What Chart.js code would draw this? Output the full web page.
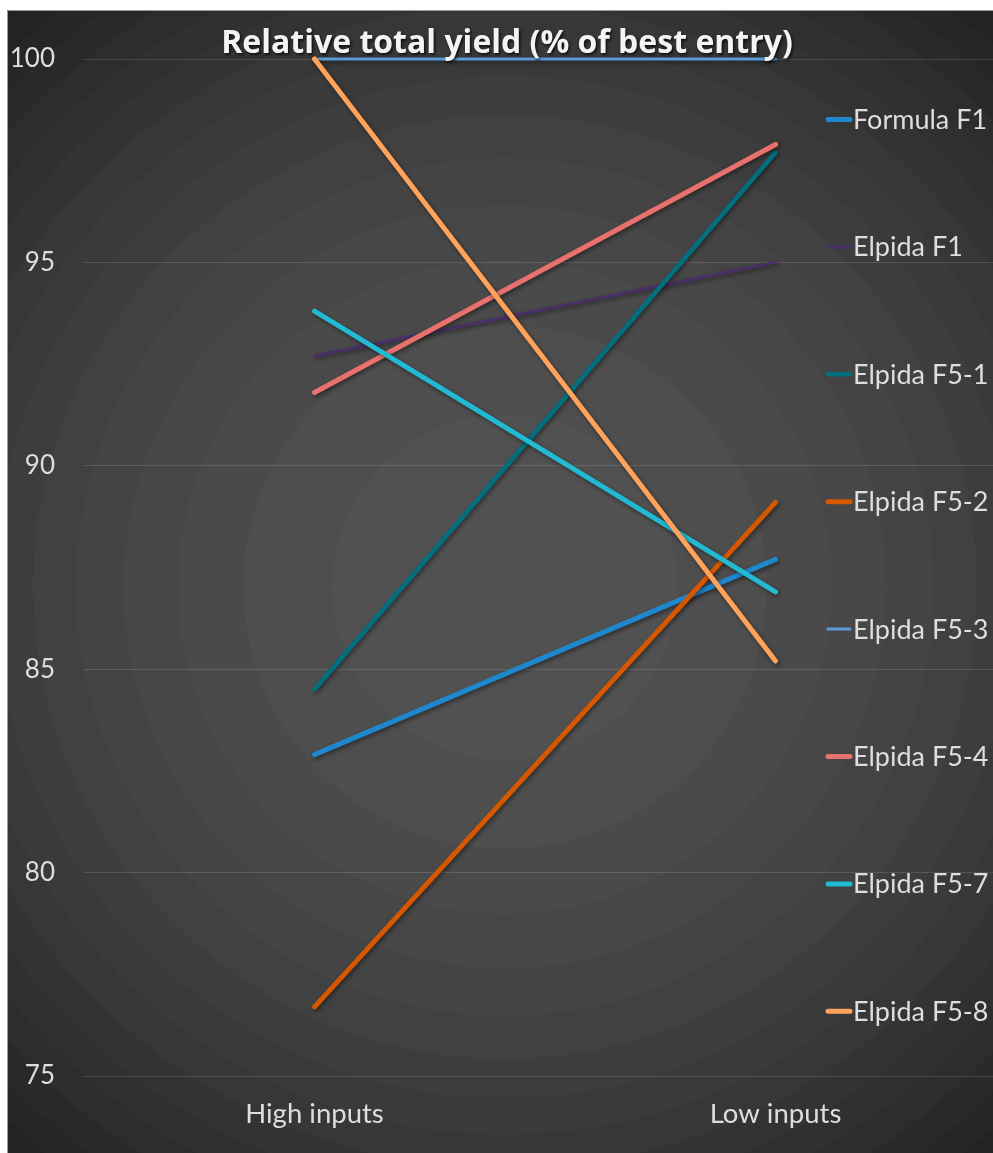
<!DOCTYPE html>
<html>
<head>
<meta charset="utf-8">
<title>Relative total yield</title>
<script src="https://cdn.jsdelivr.net/npm/chart.js@4.4.1/dist/chart.umd.min.js"></script>
<style>
  html, body { margin: 0; padding: 0; background: #ffffff; overflow: hidden; width: 993px; height: 1153px; }
  #wrap { position: absolute; left: 7px; top: 10px; width: 1003px; height: 1143px; }
  canvas { display: block; }
</style>
</head>
<body>
<div id="wrap"><canvas id="chart" width="1003" height="1143"></canvas></div>
<script>
// Relative total yield (% of best entry) per entry, under high and low inputs
const categories = ['High inputs', 'Low inputs'];

const seriesNames = ['Formula F1', 'Elpida F1', 'Elpida F5-1', 'Elpida F5-2',
                     'Elpida F5-3', 'Elpida F5-4', 'Elpida F5-7', 'Elpida F5-8'];

const formulaF1 = [82.9, 87.7];
const elpidaF1  = [92.7, 95.0];
const elpidaF51 = [84.5, 97.7];
const elpidaF52 = [76.7, 89.1];
const elpidaF53 = [100, 100];
const elpidaF54 = [91.8, 97.9];
const elpidaF57 = [93.8, 86.9];
const elpidaF58 = [100, 85.2];

const yMin = 75, yMax = 100, yStep = 5;
const chartTitle = 'Relative total yield (% of best entry)';

const seriesValues = [formulaF1, elpidaF1, elpidaF51, elpidaF52, elpidaF53, elpidaF54, elpidaF57, elpidaF58];
const seriesColors = ['#1f87cc', '#4b2d68', '#00707f', '#d55800', '#5b9bd5', '#e8716e', '#22b9d2', '#ffa35c'];
const seriesWidths = [5, 3, 4.5, 5, 3, 5, 5, 5];

const labelFont = 'Lato, "Open Sans", sans-serif';
const titleFont = '"Open Sans", Lato, sans-serif';
const textColor = '#dedede';

// dark backdrop with stepped radial shading and a thin frame
const backdrop = {
  id: 'backdrop',
  beforeDraw(chart) {
    const { ctx, width, height } = chart;
    const grey = v => { const g = Math.round(v); return `rgb(${g},${g},${g})`; };
    const cx = 498, cy = 577, bands = 16, top = 81, step = 3.3;
    ctx.save();
    ctx.fillStyle = grey(top - step * bands);
    ctx.fillRect(0, 0, width, height);
    for (let k = bands; k >= 1; k--) {
      const r = Math.sqrt(38571 * k - 8642);
      ctx.fillStyle = grey(top - step * (k - 1));
      ctx.beginPath();
      ctx.arc(cx, cy, r, 0, Math.PI * 2);
      ctx.fill();
    }
    ctx.strokeStyle = '#9c9c9c';
    ctx.lineWidth = 1;
    ctx.beginPath();
    ctx.moveTo(0.5, height);
    ctx.lineTo(0.5, 0.5);
    ctx.lineTo(width, 0.5);
    ctx.stroke();
    ctx.restore();
  }
};

// soft drop shadow under each series line
const lineShadow = {
  id: 'lineShadow',
  beforeDatasetDraw(chart) {
    const c = chart.ctx;
    c.save();
    c.shadowColor = 'rgba(0,0,0,0.45)';
    c.shadowBlur = 4;
    c.shadowOffsetX = 1.5;
    c.shadowOffsetY = 2;
  },
  afterDatasetDraw(chart) {
    chart.ctx.restore();
  }
};

// title across the top and a tall legend column on the right
const overlay = {
  id: 'overlay',
  afterDraw(chart) {
    const ctx = chart.ctx;
    ctx.save();
    ctx.font = `bold 32px ${titleFont}`;
    ctx.textAlign = 'center';
    ctx.textBaseline = 'alphabetic';
    ctx.shadowColor = 'rgba(0,0,0,0.7)';
    ctx.shadowBlur = 3;
    ctx.shadowOffsetX = 1.5;
    ctx.shadowOffsetY = 1.5;
    ctx.fillStyle = '#f4f4f4';
    ctx.fillText(chartTitle, 500, 43);
    ctx.restore();

    ctx.save();
    ctx.font = `27px ${labelFont}`;
    ctx.textAlign = 'left';
    ctx.textBaseline = 'alphabetic';
    chart.data.datasets.forEach((ds, i) => {
      const y = 109.5 + 127.4 * i;
      ctx.strokeStyle = ds.borderColor;
      ctx.lineWidth = ds.borderWidth;
      ctx.lineCap = 'round';
      ctx.beginPath();
      ctx.moveTo(821, y);
      ctx.lineTo(843, y);
      ctx.stroke();
      ctx.fillStyle = textColor;
      ctx.fillText(ds.label, 846, y + 9.5);
    });
    ctx.restore();
  }
};

const datasets = seriesNames.map((name, i) => ({
  label: name,
  data: seriesValues[i],
  borderColor: seriesColors[i],
  backgroundColor: seriesColors[i],
  borderWidth: seriesWidths[i],
  borderCapStyle: 'round',
  borderJoinStyle: 'round',
  pointRadius: 0,
  pointHoverRadius: 0,
  tension: 0,
  fill: false,
  clip: false,
  order: seriesNames.length - i
}));

new Chart(document.getElementById('chart'), {
  type: 'line',
  data: { labels: categories, datasets },
  options: {
    responsive: false,
    animation: false,
    events: [],
    layout: { padding: { top: 49, right: 4, left: 0, bottom: 0 } },
    plugins: {
      legend: { display: false },
      title: { display: false },
      tooltip: { enabled: false }
    },
    scales: {
      x: {
        offset: true,
        grid: { display: false, drawTicks: false },
        border: { display: false },
        ticks: { color: textColor, font: { family: labelFont, size: 27.5 }, padding: 22 },
        afterFit(scale) { scale.height = 77; }
      },
      y: {
        min: yMin,
        max: yMax,
        grid: { color: 'rgba(255,255,255,0.13)', lineWidth: 1, drawTicks: false },
        border: { display: false },
        ticks: { stepSize: yStep, color: textColor, font: { family: labelFont, size: 26 }, padding: 29 },
        afterFit(scale) { scale.width = 77; }
      }
    }
  },
  plugins: [backdrop, lineShadow, overlay]
});
</script>
</body>
</html>
